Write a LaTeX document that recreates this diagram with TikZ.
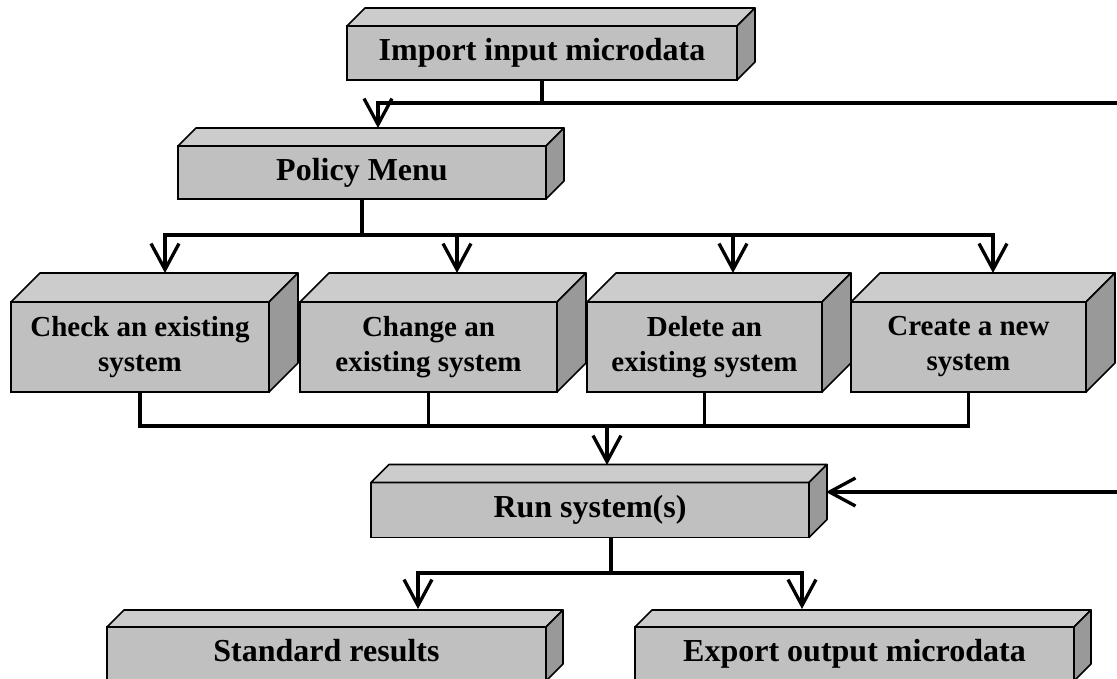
\documentclass[tikz,border=0pt]{standalone}
\usepackage{fontspec}
\setmainfont{Liberation Serif}
\usetikzlibrary{arrows.meta}
\definecolor{boxfront}{HTML}{C0C0C0}
\definecolor{boxtop}{HTML}{CCCCCC}
\definecolor{boxside}{HTML}{999999}

\begin{document}
\begin{tikzpicture}[x=1pt,y=-1pt,
  block/.style={draw,fill=boxfront,line width=1.6pt,inner sep=0pt,outer sep=0pt,align=center,
    font=\bfseries\fontsize{32}{36}\selectfont},
  oneline/.style={block,text height=22pt,text depth=7pt},
  twoline/.style={block,minimum width=257pt,minimum height=90pt,font=\bfseries\fontsize{29}{35}\selectfont},
  face/.style={draw,line width=1.6pt,line join=round},
  wire/.style={line width=3.3pt},
  arrow/.style={wire,-{Straight Barb[length=26pt,width=28pt]}}]
\useasboundingbox (0,0) rectangle (1117,678);
\clip (0,0) rectangle (1117,678);

% boxes
\node[oneline,minimum width=390pt,minimum height=54pt] (imp) at (542,53) {Import input microdata};
\node[oneline,minimum width=368pt,minimum height=53pt] (pol) at (362,172.5) {Policy Menu};
\node[twoline,minimum width=258pt] (chk) at (140,347) {Check an existing\\system};
\node[twoline] (chg) at (428.5,347) {Change an\\existing system};
\node[twoline,minimum width=235pt] (del) at (704.5,347) {Delete an\\existing system};
\node[twoline,minimum width=235pt] (cre) at (968.5,347) {Create a new\\system};
\node[oneline,minimum width=438pt,minimum height=55pt] (run) at (590,510) {Run system(s)};
\node[oneline,minimum width=439pt,minimum height=54pt] (std) at (326.5,654) {Standard results};
\node[oneline,minimum width=439pt,minimum height=54pt] (exp) at (854.5,654) {Export output microdata};

\foreach \n/\d in {imp/18,pol/18,chk/29,chg/29,del/29,cre/29,run/18,std/17,exp/17}{
  \draw[face,fill=boxtop] (\n.north west) -- ++(\d pt,\d pt) -- ([shift={(\d pt,\d pt)}]\n.north east) -- (\n.north east) -- cycle;
  \draw[face,fill=boxside] (\n.north east) -- ++(\d pt,\d pt) -- ([shift={(\d pt,\d pt)}]\n.south east) -- (\n.south east) -- cycle;
}

% junctions and entry points
\coordinate (topbus) at (542,103);
\coordinate (loopa) at (1117,103);
\coordinate (polin) at (378,128);
\coordinate (midbus) at (362,235);
\coordinate (chkin) at (165,273);
\coordinate (chgin) at (457,273);
\coordinate (delin) at (733,273);
\coordinate (crein) at (993,273);
\coordinate (runbus) at (607,426);
\coordinate (runin) at (607,465);
\coordinate (loopb) at (1117,492);
\coordinate (runside) at (826,492);
\coordinate (runout) at (611,537);
\coordinate (outbus) at (611,573);
\coordinate (stdin) at (418,609);
\coordinate (expin) at (802,609);

% connectors
\draw[wire] (imp.south) -- (topbus) -- (loopa);
\draw[arrow] (topbus) -| (polin);
\draw[wire] (pol.south) -- (midbus);
\draw[arrow] (midbus) -| (chkin);
\draw[arrow] (midbus) -| (chgin);
\draw[arrow] (midbus) -| (delin);
\draw[arrow] (midbus) -| (crein);
\draw[wire] (chk.south) |- (runbus);
\draw[wire] (chg.south) |- (runbus);
\draw[wire] (del.south) |- (runbus);
\draw[wire] (cre.south) |- (runbus);
\draw[arrow] (runbus) -- (runin);
\draw[arrow] (loopb) -- (runside);
\draw[wire] (runout) -- (outbus);
\draw[arrow] (outbus) -| (stdin);
\draw[arrow] (outbus) -| (expin);
\end{tikzpicture}
\end{document}
